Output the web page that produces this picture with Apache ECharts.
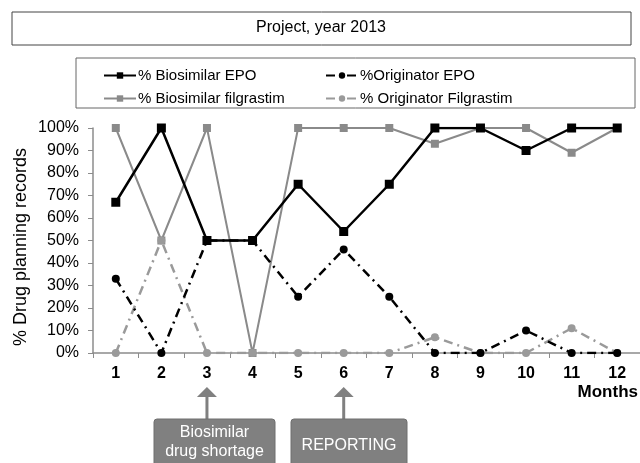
<!DOCTYPE html>
<html><head><meta charset="utf-8">
<script src="https://cdn.jsdelivr.net/npm/echarts@6/dist/echarts.min.js"></script>
<style>html,body{margin:0;padding:0;background:#fff}#c{width:640px;height:463px}</style>
</head><body><div id="c"></div>
<script>
const months = ['1','2','3','4','5','6','7','8','9','10','11','12'];
const bioEPO  = [67,100,50,50,75,54,75,100,100,90,100,100];
const origEPO = [33,0,50,50,25,46,25,0,0,10,0,0];
const bioFil  = [100,50,100,0,100,100,100,93,100,100,89,100];
const origFil = [0,50,0,0,0,0,0,7,0,0,11,0];
const names = ['% Biosimilar EPO','%Originator EPO','% Biosimilar filgrastim','% Originator Filgrastim'];
const titleText = 'Project, year 2013';
const yName = '% Drug planning records';
const xName = 'Months';
const notes = [{at:'3', text:'Biosimilar\ndrug shortage'},{at:'6', text:'REPORTING'}];

const FONT = 'Liberation Sans, Arial, sans-serif';
const BLACK = '#000000', GRAY = '#8a8a8a', LGRAY = '#9a9a9a';
const dashDot = [9,5,2,5];

const chart = echarts.init(document.getElementById('c'), null, {renderer:'canvas'});
function leg(name, left, top){
  return {data:[name], left:left, top:top, itemWidth:32, itemHeight:8, itemGap:0,
    textStyle:{fontFamily:FONT, fontSize:15, color:'#000', padding:[0,0,0,-3]},
    selectedMode:false, padding:0};
}
const option = {
  animation:false,
  textStyle:{fontFamily:FONT},
  grid:{left:93, right:0, top:128, bottom:110, containLabel:false},
  legend:[leg(names[0],103,68), leg(names[1],325,68), leg(names[2],103,91), leg(names[3],325,91)],
  xAxis:{type:'category', data:months, boundaryGap:true,
    axisLine:{lineStyle:{color:'#8c8c8c', width:1.5}},
    axisTick:{show:true, alignWithLabel:false, length:5, lineStyle:{color:'#8c8c8c'}},
    axisLabel:{color:'#000', fontWeight:'bold', fontSize:16, margin:13, fontFamily:FONT}},
  yAxis:{type:'value', min:0, max:100, interval:10,
    axisLine:{show:true, lineStyle:{color:'#8c8c8c', width:1.5}},
    axisTick:{show:true, length:5, lineStyle:{color:'#8c8c8c'}},
    splitLine:{show:false},
    axisLabel:{color:'#000', fontSize:16, margin:14, fontFamily:FONT, formatter:v=>v+'%'}},
  series:[
    {name:names[2], type:'line', data:bioFil, symbol:'rect', symbolSize:8,
      lineStyle:{color:GRAY, width:2}, itemStyle:{color:GRAY}, z:2},
    {name:names[3], type:'line', data:origFil, symbol:'circle', symbolSize:8,
      lineStyle:{color:LGRAY, width:2.5, type:dashDot}, itemStyle:{color:LGRAY}, z:2},
    {name:names[0], type:'line', data:bioEPO, symbol:'rect', symbolSize:9,
      lineStyle:{color:BLACK, width:2.5}, itemStyle:{color:BLACK}, z:3},
    {name:names[1], type:'line', data:origEPO, symbol:'circle', symbolSize:8,
      lineStyle:{color:BLACK, width:2.5, type:dashDot}, itemStyle:{color:BLACK}, z:3}
  ]
};
chart.setOption(option);

const g = [
  {type:'rect', shape:{x:12, y:12, width:619, height:33}, style:{fill:'#fff', stroke:'#444', lineWidth:1}, z:-1},
  {type:'text', x:321, y:28, style:{text:titleText, fontSize:16, fontFamily:FONT, fill:'#000', align:'center', verticalAlign:'middle'}},
  {type:'rect', shape:{x:76, y:58, width:559, height:50}, style:{fill:'none', stroke:'#666', lineWidth:1}, z:-1},
  {type:'text', x:21, y:247, rotation:Math.PI/2, style:{text:yName, fontSize:18, fontFamily:FONT, fill:'#000', align:'center', verticalAlign:'middle'}},
  {type:'text', x:638, y:392, style:{text:xName, fontSize:17, fontWeight:'bold', fontFamily:FONT, fill:'#000', align:'right', verticalAlign:'middle'}}
];
const boxes = [{x:154,w:121},{x:291,w:116}];
notes.forEach((n,i)=>{
  const px = chart.convertToPixel({xAxisIndex:0}, n.at);
  g.push({type:'polygon', shape:{points:[[px,387],[px-10,397],[px+10,397]]}, style:{fill:'#808080'}});
  g.push({type:'rect', shape:{x:px-1.5, y:396, width:3, height:24}, style:{fill:'#808080'}});
  g.push({type:'rect', shape:{x:boxes[i].x, y:419, width:boxes[i].w, height:50, r:3}, style:{fill:'#808080', stroke:'#6e6e6e', lineWidth:1}});
  g.push({type:'text', x:boxes[i].x+boxes[i].w/2, y:i===0?442:446, style:{text:n.text, fontSize:16, lineHeight:19, fontFamily:FONT, fill:'#fff', align:'center', verticalAlign:'middle'}});
});
chart.setOption({graphic:g});
</script></body></html>
